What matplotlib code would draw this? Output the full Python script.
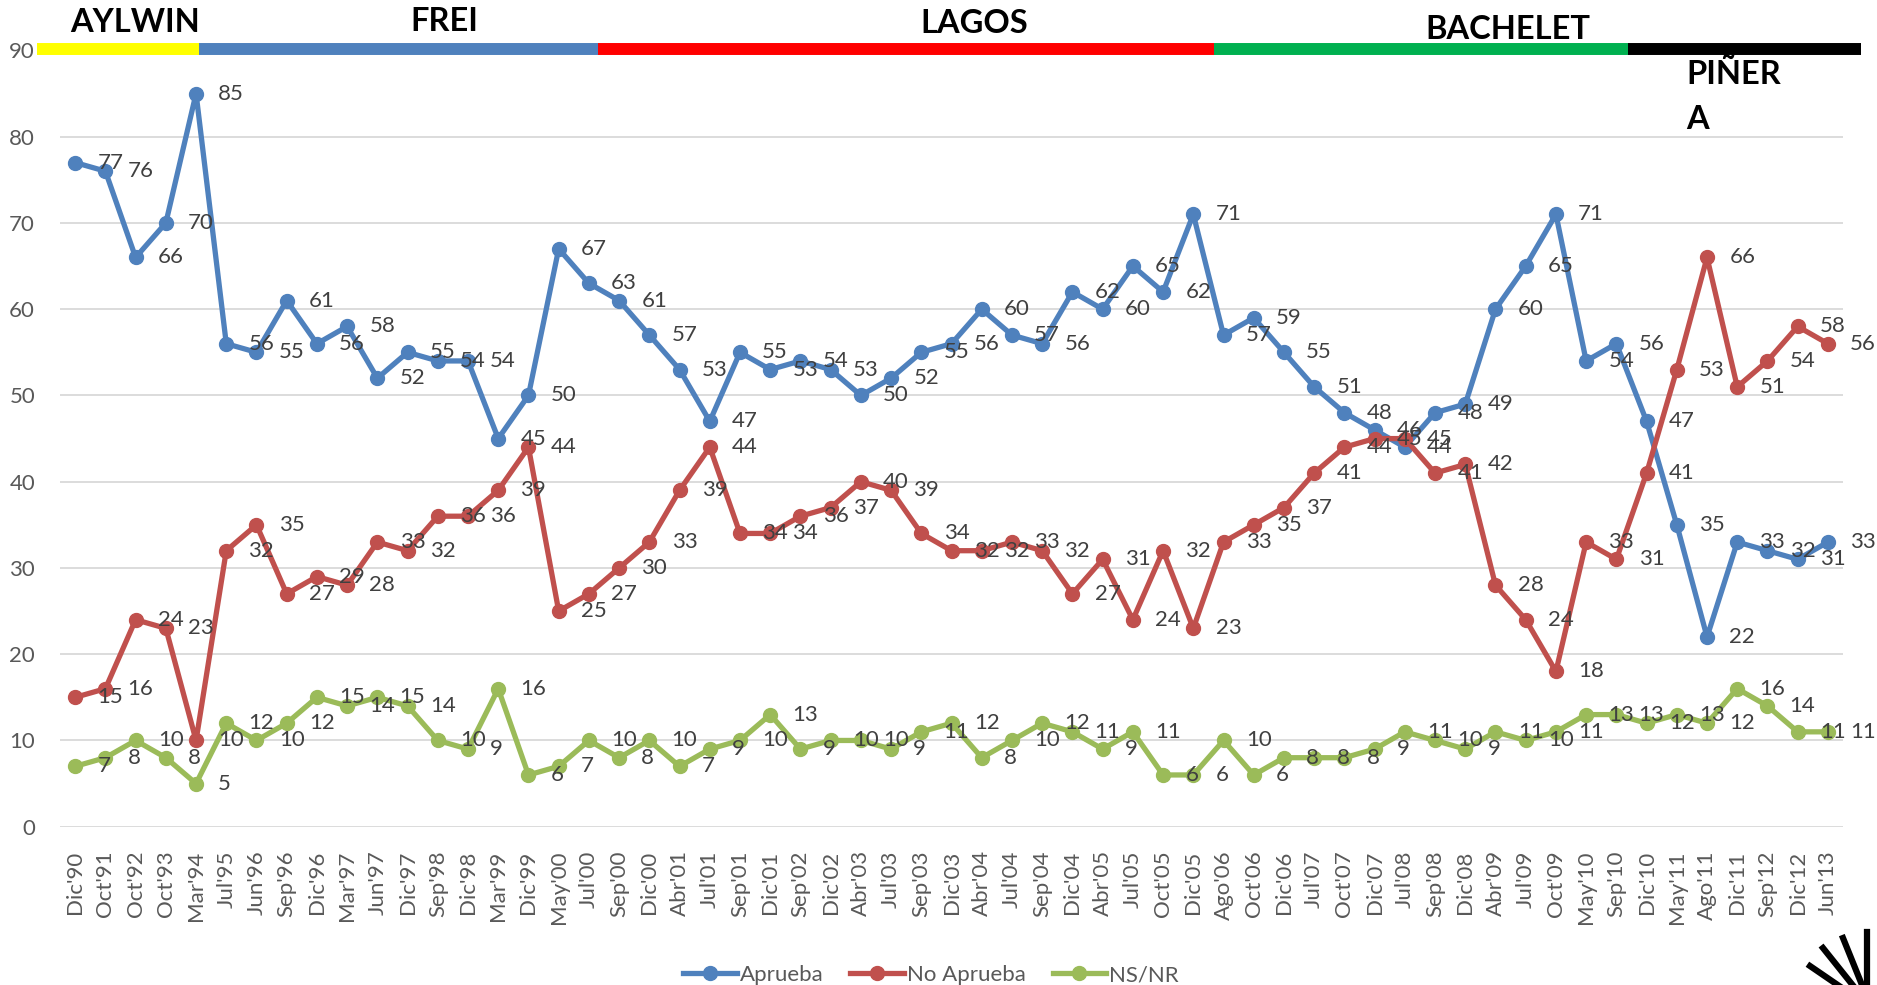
import numpy as np
import matplotlib
matplotlib.use("Agg")
import matplotlib.pyplot as plt
from matplotlib.lines import Line2D

plt.rcParams['font.family'] = ['Lato', 'DejaVu Sans']

fechas = ["Dic'90", "Oct'91", "Oct'92", "Oct'93", "Mar'94", "Jul'95", "Jun'96", "Sep'96",
          "Dic'96", "Mar'97", "Jun'97", "Dic'97", "Sep'98", "Dic'98", "Mar'99", "Dic'99",
          "May'00", "Jul'00", "Sep'00", "Dic'00", "Abr'01", "Jul'01", "Sep'01", "Dic'01",
          "Sep'02", "Dic'02", "Abr'03", "Jul'03", "Sep'03", "Dic'03", "Abr'04", "Jul'04",
          "Sep'04", "Dic'04", "Abr'05", "Jul'05", "Oct'05", "Dic'05", "Ago'06", "Oct'06",
          "Dic'06", "Jul'07", "Oct'07", "Dic'07", "Jul'08", "Sep'08", "Dic'08", "Abr'09",
          "Jul'09", "Oct'09", "May'10", "Sep'10", "Dic'10", "May'11", "Ago'11", "Dic'11",
          "Sep'12", "Dic'12", "Jun'13"]

aprueba = [77, 76, 66, 70, 85, 56, 55, 61, 56, 58, 52, 55, 54, 54, 45, 50, 67, 63, 61, 57,
           53, 47, 55, 53, 54, 53, 50, 52, 55, 56, 60, 57, 56, 62, 60, 65, 62, 71, 57, 59,
           55, 51, 48, 46, 44, 48, 49, 60, 65, 71, 54, 56, 47, 35, 22, 33, 32, 31, 33]

no_aprueba = [15, 16, 24, 23, 10, 32, 35, 27, 29, 28, 33, 32, 36, 36, 39, 44, 25, 27, 30, 33,
              39, 44, 34, 34, 36, 37, 40, 39, 34, 32, 32, 33, 32, 27, 31, 24, 32, 23, 33, 35,
              37, 41, 44, 45, 45, 41, 42, 28, 24, 18, 33, 31, 41, 53, 66, 51, 54, 58, 56]

ns_nr = [7, 8, 10, 8, 5, 12, 10, 12, 15, 14, 15, 14, 10, 9, 16, 6, 7, 10, 8, 10,
         7, 9, 10, 13, 9, 10, 10, 9, 11, 12, 8, 10, 12, 11, 9, 11, 6, 6, 10, 6,
         8, 8, 8, 9, 11, 10, 9, 11, 10, 11, 13, 13, 12, 13, 12, 16, 14, 11, 11]

# periodos presidenciales (limites en posiciones de categoria)
presidentes = ["AYLWIN", "FREI", "LAGOS", "BACHELET", "PIÑERA"]
limites = [-1.27, 4.1, 17.3, 37.7, 51.4, 59.1]
colores_periodo = ["#FFFF00", "#4F81BD", "#FF0000", "#00B050", "#000000"]

series = [("Aprueba", aprueba, "#4F81BD"),
          ("No Aprueba", no_aprueba, "#C0504D"),
          ("NS/NR", ns_nr, "#9BBB59")]

fig = plt.figure(figsize=(18.77, 9.85), dpi=100)
ax = fig.add_axes([0.032, 0.1607, 0.9499, 0.7881])

x = np.arange(len(fechas))
for nombre, vals, col in series:
    ax.plot(x, vals, color=col, lw=3.8, marker='o', markersize=10, label=nombre, zorder=3)

for nombre, vals, col in series:
    for i, v in enumerate(vals):
        ax.annotate(str(v), (i, v), xytext=(16, 0), textcoords='offset points',
                    ha='left', va='center', fontsize=16, color='#404040',
                    annotation_clip=False, zorder=4)

ax.set_xlim(-0.5, len(fechas) - 0.5)
ax.set_ylim(0, 90)
ax.set_yticks(range(0, 91, 10))
ax.set_xticks(x)
ax.set_xticklabels(fechas, rotation=90)
ax.tick_params(axis='both', length=0, labelsize=16, labelcolor='#595959')
ax.tick_params(axis='x', pad=17)
ax.tick_params(axis='y', pad=18)
ax.grid(axis='y', color='#D9D9D9', lw=1.3)
ax.set_axisbelow(True)
for s in ax.spines.values():
    s.set_visible(False)

# barras de periodos
for k in range(len(presidentes)):
    ax.plot([limites[k], limites[k + 1]], [90.2, 90.2], color=colores_periodo[k], lw=8.6,
            solid_capstyle='butt', clip_on=False, zorder=5)

nombre_pos = [(1.98, 93.2), (12.2, 93.4), (29.75, 93.1), (47.4, 92.4)]
for nom, (px, py) in zip(presidentes[:4], nombre_pos):
    ax.text(px, py, nom, ha='center', va='center', fontsize=23.5, fontweight='bold',
            color='black', clip_on=False)
ax.text(53.3, 87.3, "PIÑER", ha='left', va='center', fontsize=23.5, fontweight='bold', color='black')
ax.text(53.3, 82.0, "A", ha='left', va='center', fontsize=23.5, fontweight='bold', color='black')

fig.legend(loc='center', bbox_to_anchor=(931 / 1877, 1 - 975 / 985), ncol=3, frameon=False,
           fontsize=16, labelcolor='#595959', handlelength=2.4, handletextpad=0.15,
           columnspacing=1.2)

# logo
for (x0, y0, x1, y1) in [(1867, 932, 1867, 990), (1843, 938, 1862, 985),
                          (1823, 948, 1855, 988), (1810, 966, 1848, 992)]:
    fig.add_artist(Line2D([x0 / 1877, x1 / 1877], [1 - y0 / 985, 1 - y1 / 985],
                          color='black', lw=4.5, transform=fig.transFigure))

fig.savefig("out.png", dpi=100)
